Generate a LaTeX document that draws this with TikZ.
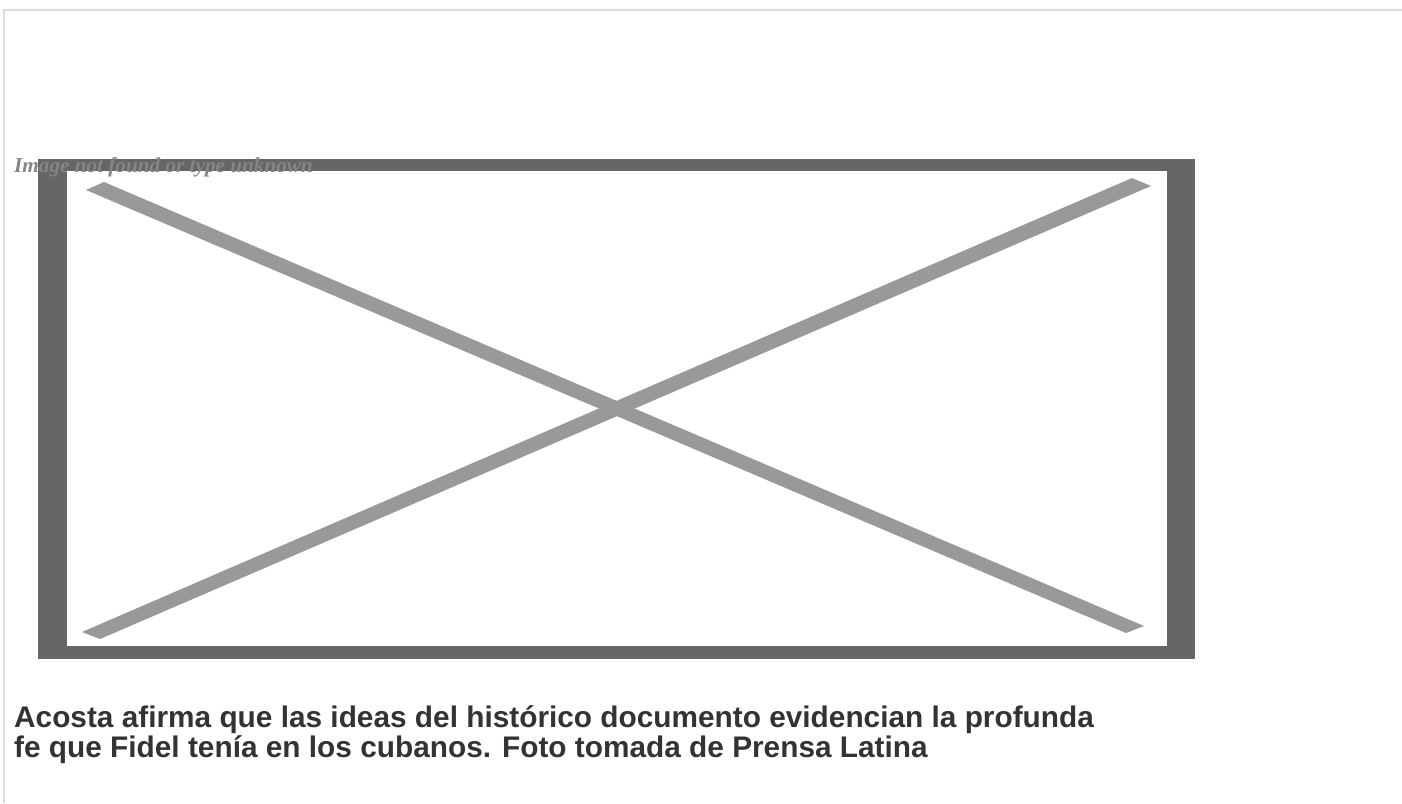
\documentclass[tikz,border=0pt]{standalone}
\usepackage{fontspec}
\setmainfont{Liberation Sans}
\newfontfamily\brokenfont{Liberation Serif}
\definecolor{framegray}{HTML}{DDDDDD}
\definecolor{boxdark}{HTML}{666666}
\definecolor{crossgray}{HTML}{999999}
\definecolor{notetext}{HTML}{858585}
\definecolor{captext}{HTML}{333333}
\begin{document}
\begin{tikzpicture}[x=1pt,y=-1pt,
  bar/.style={fill=crossgray,draw=none},
  caption line/.style={anchor=base west,inner sep=0pt,text=captext,
    font=\bfseries\fontsize{29.8}{30}\selectfont}]

  \useasboundingbox (0,0) rectangle (1402,803);
  \draw[framegray,line width=2pt] (3.5,803) -- (3.5,10) -- (1402,10);

  % placeholder box
  \fill[boxdark] (38,159) rectangle (1195,659);
  \fill[white] (67,171) rectangle (1167,646);

  \coordinate (tl) at (86,190);
  \coordinate (tlb) at (104,182);
  \coordinate (br) at (1144,626);
  \coordinate (brb) at (1126,633);
  \coordinate (tr) at (1132,178);
  \coordinate (trb) at (1151,186);
  \coordinate (bl) at (100,639);
  \coordinate (blb) at (82,632);
  \fill[bar] (tl) -- (tlb) -- (br) -- (brb) -- cycle;
  \fill[bar] (tr) -- (trb) -- (bl) -- (blb) -- cycle;

  \node[anchor=base west,inner sep=0pt,text=notetext,
    font=\brokenfont\bfseries\itshape\fontsize{21.2}{24}\selectfont]
    (note) at (14,172) {Image not found or type unknown};

  \node[caption line] (cap1) at (14,727)
    {Acosta afirma que las ideas del histórico documento evidencian la profunda};
  \node[caption line] (cap2) at (14,757)
    {fe que Fidel tenía en los cubanos. Foto tomada de Prensa Latina};
\end{tikzpicture}
\end{document}
